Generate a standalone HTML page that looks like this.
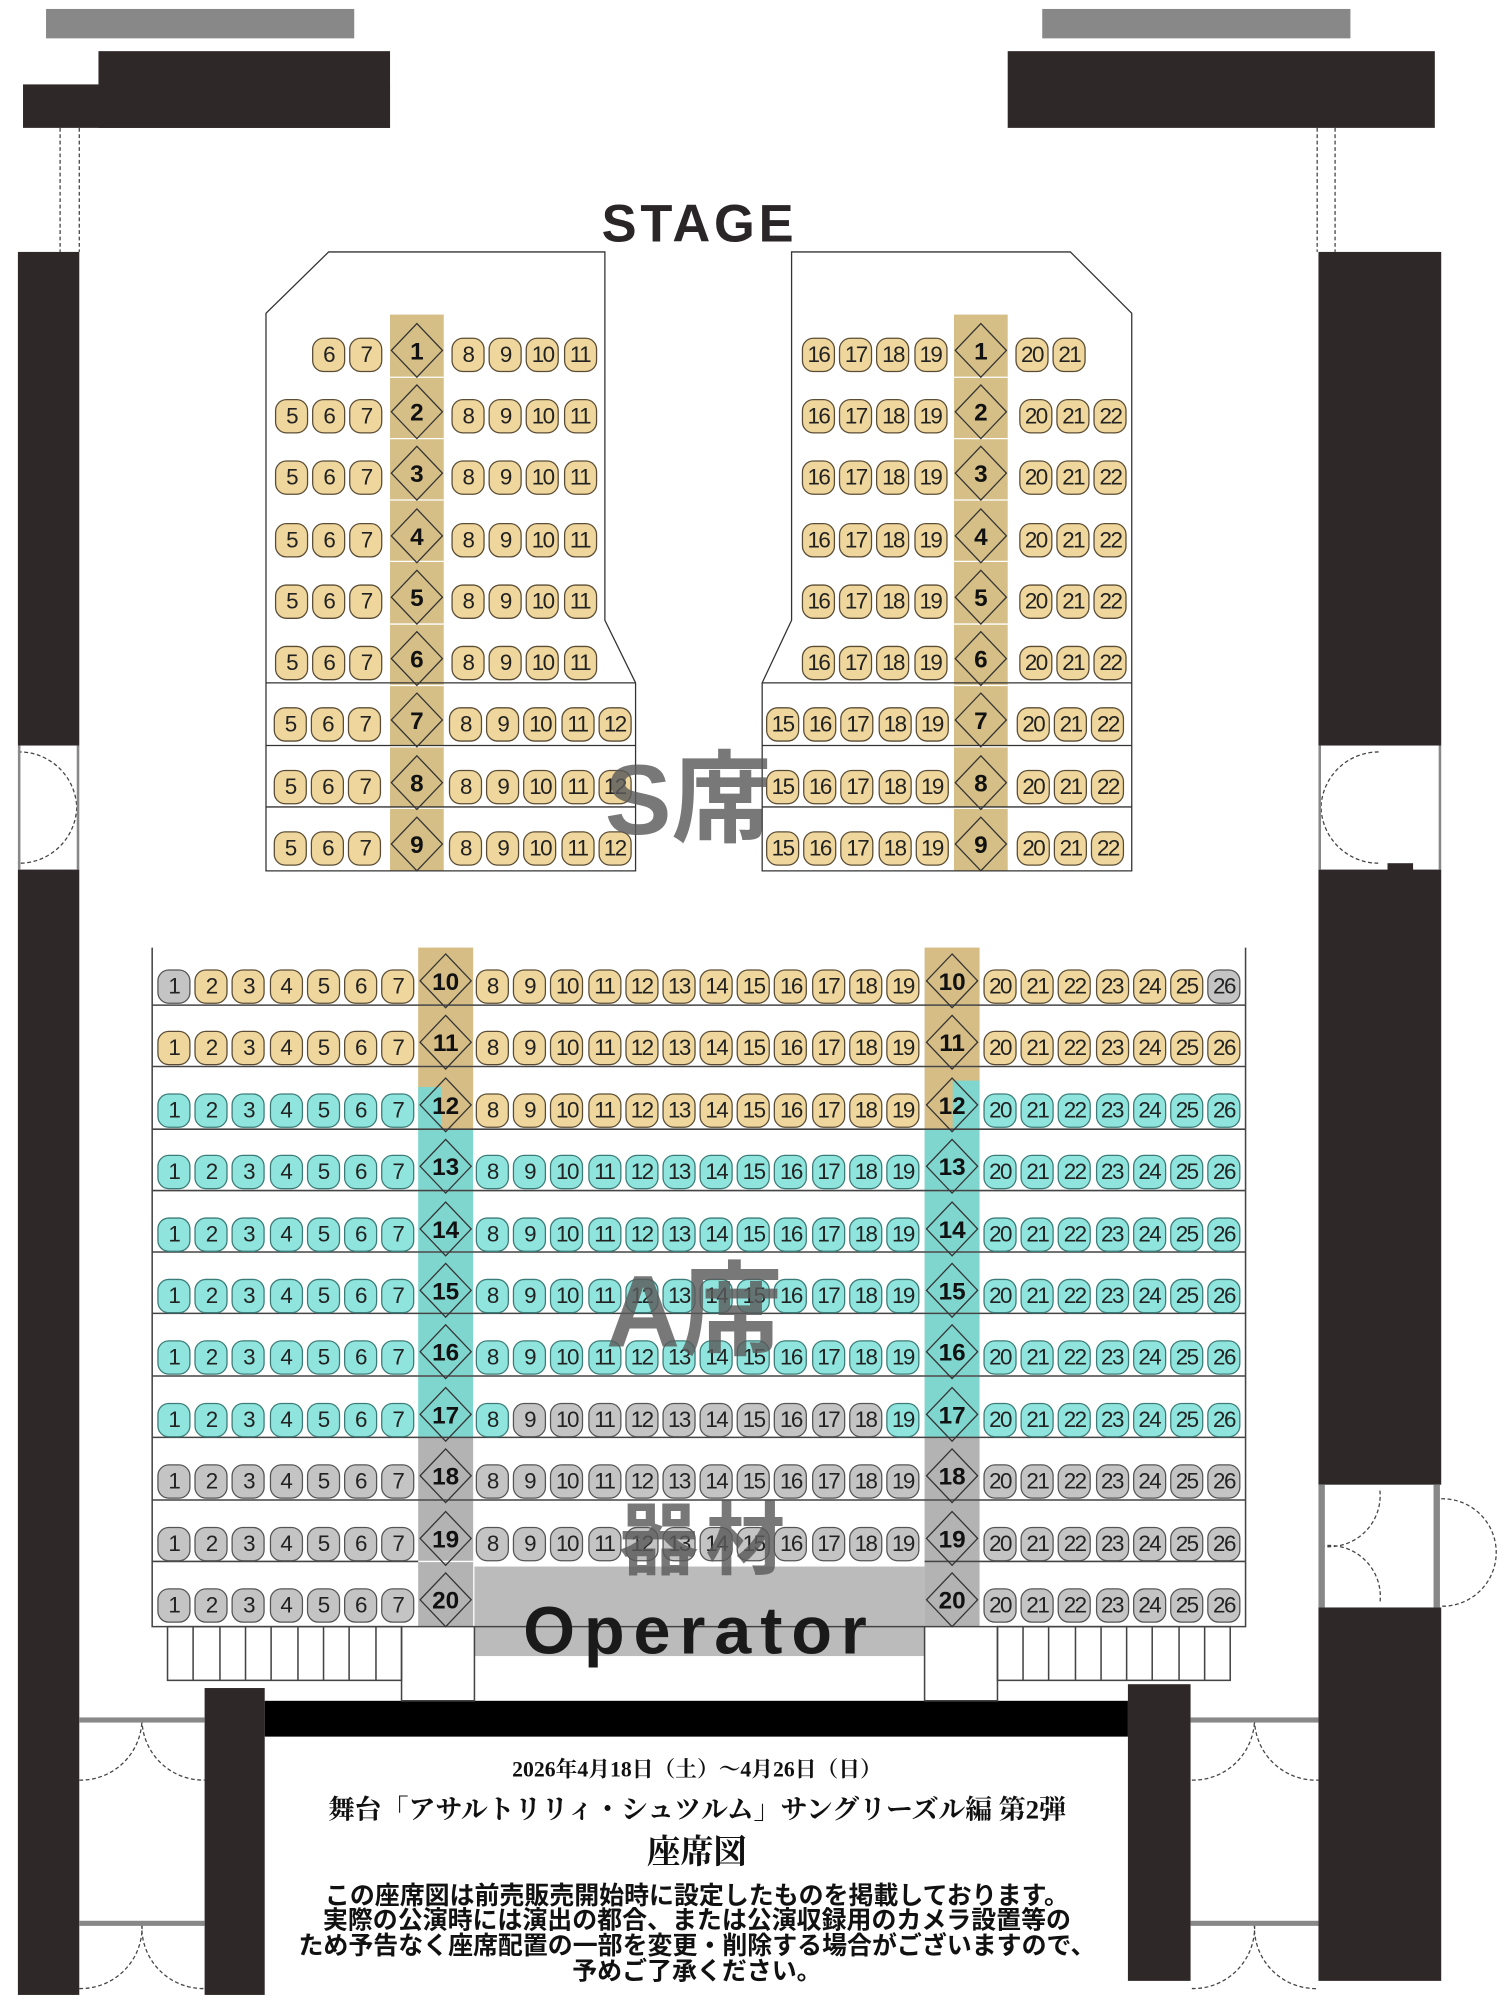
<!DOCTYPE html>
<html><head><meta charset="utf-8"><style>
html,body{margin:0;padding:0;background:#fff;overflow:hidden;width:1509px;height:2000px}
#w{position:relative;width:1180px;height:1564px;transform:scale(1.27881);transform-origin:0 0}
svg{position:absolute;left:0;top:0}
.r{position:absolute;display:flex;height:28px}
.r b{width:26px;height:27px;margin:0 1.6px;box-sizing:border-box;border:1.2px solid #5b4d35;border-radius:9px;background:#eed69c;font:400 17.5px/25px "Liberation Sans",sans-serif;text-align:center;color:#222;letter-spacing:-1.2px;flex:none}
.r.t b{background:#8fe5dd;border-color:#3c7c78}
.r b.g,.r.g b{background:#c4c4c4;border-color:#555}
.r b.t{background:#8fe5dd;border-color:#3c7c78}
.r b.y{background:#eed69c;border-color:#5b4d35}
.big{position:absolute;font-family:"Liberation Sans","Noto Sans CJK JP",sans-serif;font-weight:700;color:rgba(90,90,90,.82);white-space:nowrap}
.tx{position:absolute;left:200px;width:690px;text-align:center;white-space:nowrap;color:#111}
.sf{font-family:"Liberation Serif","Noto Serif CJK JP",serif;font-weight:700}
.ss{font-family:"Liberation Sans","Noto Sans CJK JP",sans-serif;font-weight:700;font-size:19.5px;line-height:20px}
</style></head><body><div id="w">
<svg width="1180" height="1564" viewBox="0 0 1180 1564">
<defs><polygon id="d" points="0,-21 20,0 0,21 -20,0" fill="none" stroke="#333" stroke-width="1"/></defs>
<g fill="#2f2829">
<rect x="36" y="7" width="241" height="23" fill="#888"/><rect x="815" y="7" width="241" height="23" fill="#888"/>
<rect x="77" y="40" width="228" height="60"/><rect x="18" y="66" width="287" height="34"/>
<rect x="788" y="40" width="334" height="60"/>
<rect x="14" y="197" width="48" height="386"/><rect x="14" y="680" width="48" height="880"/>
<rect x="1031" y="197" width="96" height="386"/><rect x="1031" y="680" width="96" height="481"/><rect x="1085" y="675" width="20" height="6"/>
<rect x="1031" y="1257" width="96" height="292"/>
<rect x="160" y="1320" width="47" height="240"/><rect x="882" y="1317" width="49" height="232"/>
<rect x="207" y="1330" width="675" height="28" fill="#000"/>
</g>
<g fill="none" stroke="#444" stroke-width="1" stroke-dasharray="3,2">
<path d="M47,100V197M62,100V197M1030,100V197M1044,100V197"/>
<path d="M14,588 A45,45 0 0 1 60,631 A45,45 0 0 1 14,675"/>
<path d="M1078,588 A45,45 0 0 0 1033,631 A45,45 0 0 0 1078,675"/>
<path d="M1127,1172 A42,42 0 0 1 1170,1214 A42,42 0 0 1 1127,1256"/>
<path d="M1033,1209 A40,40 0 0 0 1079,1165 M1033,1209 A40,40 0 0 1 1079,1254"/>
<path d="M62,1392 A48,48 0 0 0 111,1345 A48,48 0 0 0 160,1392 M62,1555 A48,48 0 0 0 111,1504 A48,48 0 0 0 160,1555"/>
<path d="M932,1392 A48,48 0 0 0 981,1345 A48,48 0 0 0 1031,1392 M932,1555 A48,48 0 0 0 981,1504 A48,48 0 0 0 1031,1555"/>
</g>
<g fill="#888"><rect x="1031" y="1161" width="5" height="96"/><rect x="1121" y="1161" width="5" height="96"/>
<rect x="62" y="1343" width="98" height="4"/><rect x="62" y="1502" width="98" height="4"/>
<rect x="931" y="1343" width="100" height="4"/><rect x="931" y="1502" width="100" height="4"/>
<rect x="14" y="583" width="2" height="97"/><rect x="60" y="583" width="2" height="97"/>
<rect x="1031" y="583" width="2" height="97"/><rect x="1125" y="583" width="2" height="97"/></g>
<rect x="305" y="246" width="42" height="435" fill="#d6bf86"/><rect x="746" y="246" width="42" height="435" fill="#d6bf86"/>
<g stroke="#fff" stroke-width="1"><path d="M305,295H347M305,343H347M305,391H347M305,439H347M305,488H347M305,536H347M305,584H347M305,632H347M746,295H788M746,343H788M746,391H788M746,439H788M746,488H788M746,536H788M746,584H788M746,632H788"/></g>
<g fill="none" stroke="#333" stroke-width="1">
<path d="M257,197L473,197L473,485L497,534L497,681L208,681L208,245Z"/>
<path d="M208,534H497M208,583H497M208,631H497"/>
<path d="M619,197L837,197L885,245L885,681L596,681L596,534L619,485Z"/>
<path d="M596,534H885M596,583H885M596,631H885"/>
</g>
<g>
<rect x="327" y="741" width="43" height="142" fill="#d5bd85"/><rect x="723" y="741" width="43" height="142" fill="#d5bd85"/>
<rect x="327" y="850" width="18" height="33" fill="#7fd6cf"/><rect x="745" y="845" width="21" height="38" fill="#7fd6cf"/>
<rect x="327" y="883" width="43" height="241" fill="#7fd6cf"/><rect x="723" y="883" width="43" height="241" fill="#7fd6cf"/>
<rect x="327" y="1124" width="43" height="148" fill="#b3b3b3"/><rect x="723" y="1124" width="43" height="148" fill="#b3b3b3"/>
<rect x="371" y="1225" width="352" height="70" fill="#bbb"/>
</g>
<g stroke="#fff" stroke-width="1"><path d="M327,786H370M327,834H370M327,931H370M327,979H370M327,1027H370M327,1076H370M327,1173H370M327,1221H370M723,786H766M723,834H766M723,931H766M723,979H766M723,1027H766M723,1076H766M723,1173H766M723,1221H766"/></g>
<g fill="none" stroke="#444" stroke-width="1.2">
<path d="M119,741V1272H974V741"/>
<path d="M119,786H974M119,834H974M119,883H974M119,931H974M119,979H974M119,1027H974M119,1076H974M119,1124H974M119,1173H974M119,1221H327M723,1221H974"/>
<path d="M314,1272V1330H371V1272M723,1272V1330H780V1272"/>
<rect x="131" y="1272" width="183" height="42"/><path d="M151,1272V1314M172,1272V1314M192,1272V1314M212,1272V1314M233,1272V1314M253,1272V1314M273,1272V1314M294,1272V1314"/>
<rect x="780" y="1272" width="182" height="42"/><path d="M800,1272V1314M820,1272V1314M841,1272V1314M861,1272V1314M881,1272V1314M901,1272V1314M922,1272V1314M942,1272V1314"/>
</g>
<g>
<use href="#d" x="326" y="274"/><use href="#d" x="326" y="322"/><use href="#d" x="326" y="370"/><use href="#d" x="326" y="419"/><use href="#d" x="326" y="467"/><use href="#d" x="326" y="515"/><use href="#d" x="326" y="563"/><use href="#d" x="326" y="612"/><use href="#d" x="326" y="660"/>
<use href="#d" x="767" y="274"/><use href="#d" x="767" y="322"/><use href="#d" x="767" y="370"/><use href="#d" x="767" y="419"/><use href="#d" x="767" y="467"/><use href="#d" x="767" y="515"/><use href="#d" x="767" y="563"/><use href="#d" x="767" y="612"/><use href="#d" x="767" y="660"/>
<use href="#d" x="348.5" y="767"/><use href="#d" x="348.5" y="815"/><use href="#d" x="348.5" y="864"/><use href="#d" x="348.5" y="912"/><use href="#d" x="348.5" y="961"/><use href="#d" x="348.5" y="1009"/><use href="#d" x="348.5" y="1057"/><use href="#d" x="348.5" y="1106"/><use href="#d" x="348.5" y="1154"/><use href="#d" x="348.5" y="1203"/><use href="#d" x="348.5" y="1251"/>
<use href="#d" x="744.5" y="767"/><use href="#d" x="744.5" y="815"/><use href="#d" x="744.5" y="864"/><use href="#d" x="744.5" y="912"/><use href="#d" x="744.5" y="961"/><use href="#d" x="744.5" y="1009"/><use href="#d" x="744.5" y="1057"/><use href="#d" x="744.5" y="1106"/><use href="#d" x="744.5" y="1154"/><use href="#d" x="744.5" y="1203"/><use href="#d" x="744.5" y="1251"/>
</g>
<g font-family="Liberation Sans,sans-serif" font-weight="700" font-size="19" text-anchor="middle" fill="#111">
<text x="326" y="281">1</text><text x="326" y="329">2</text><text x="326" y="377">3</text><text x="326" y="426">4</text><text x="326" y="474">5</text><text x="326" y="522">6</text><text x="326" y="570">7</text><text x="326" y="619">8</text><text x="326" y="667">9</text>
<text x="767" y="281">1</text><text x="767" y="329">2</text><text x="767" y="377">3</text><text x="767" y="426">4</text><text x="767" y="474">5</text><text x="767" y="522">6</text><text x="767" y="570">7</text><text x="767" y="619">8</text><text x="767" y="667">9</text>
<text x="348.5" y="774">10</text><text x="348.5" y="822">11</text><text x="348.5" y="871">12</text><text x="348.5" y="919">13</text><text x="348.5" y="968">14</text><text x="348.5" y="1016">15</text><text x="348.5" y="1064">16</text><text x="348.5" y="1113">17</text><text x="348.5" y="1161">18</text><text x="348.5" y="1210">19</text><text x="348.5" y="1258">20</text>
<text x="744.5" y="774">10</text><text x="744.5" y="822">11</text><text x="744.5" y="871">12</text><text x="744.5" y="919">13</text><text x="744.5" y="968">14</text><text x="744.5" y="1016">15</text><text x="744.5" y="1064">16</text><text x="744.5" y="1113">17</text><text x="744.5" y="1161">18</text><text x="744.5" y="1210">19</text><text x="744.5" y="1258">20</text>
</g>
<text x="547" y="189" font-family="Liberation Sans,sans-serif" font-weight="700" font-size="41" letter-spacing="3" text-anchor="middle" fill="#2a2526">STAGE</text>
</svg>

<div class="r" style="left:242.4px;top:264px"><b>6</b><b>7</b></div>
<div class="r" style="left:351.4px;top:264px"><b>8</b><b>9</b><b>10</b><b>11</b></div>
<div class="r" style="left:213.4px;top:312px"><b>5</b><b>6</b><b>7</b></div><div class="r" style="left:351.4px;top:312px"><b>8</b><b>9</b><b>10</b><b>11</b></div>
<div class="r" style="left:213.4px;top:360px"><b>5</b><b>6</b><b>7</b></div><div class="r" style="left:351.4px;top:360px"><b>8</b><b>9</b><b>10</b><b>11</b></div>
<div class="r" style="left:213.4px;top:409px"><b>5</b><b>6</b><b>7</b></div><div class="r" style="left:351.4px;top:409px"><b>8</b><b>9</b><b>10</b><b>11</b></div>
<div class="r" style="left:213.4px;top:457px"><b>5</b><b>6</b><b>7</b></div><div class="r" style="left:351.4px;top:457px"><b>8</b><b>9</b><b>10</b><b>11</b></div>
<div class="r" style="left:213.4px;top:505px"><b>5</b><b>6</b><b>7</b></div><div class="r" style="left:351.4px;top:505px"><b>8</b><b>9</b><b>10</b><b>11</b></div>
<div class="r" style="left:212.4px;top:553px"><b>5</b><b>6</b><b>7</b></div><div class="r" style="left:349.4px;top:553px"><b>8</b><b>9</b><b>10</b><b>11</b><b>12</b></div>
<div class="r" style="left:212.4px;top:602px"><b>5</b><b>6</b><b>7</b></div><div class="r" style="left:349.4px;top:602px"><b>8</b><b>9</b><b>10</b><b>11</b><b>12</b></div>
<div class="r" style="left:212.4px;top:650px"><b>5</b><b>6</b><b>7</b></div><div class="r" style="left:349.4px;top:650px"><b>8</b><b>9</b><b>10</b><b>11</b><b>12</b></div>
<div class="r" style="left:625.4px;top:264px"><b>16</b><b>17</b><b>18</b><b>19</b></div><div class="r" style="left:792.4px;top:264px"><b>20</b><b>21</b></div>
<div class="r" style="left:625.4px;top:312px"><b>16</b><b>17</b><b>18</b><b>19</b></div><div class="r" style="left:795.4px;top:312px"><b>20</b><b>21</b><b>22</b></div>
<div class="r" style="left:625.4px;top:360px"><b>16</b><b>17</b><b>18</b><b>19</b></div><div class="r" style="left:795.4px;top:360px"><b>20</b><b>21</b><b>22</b></div>
<div class="r" style="left:625.4px;top:409px"><b>16</b><b>17</b><b>18</b><b>19</b></div><div class="r" style="left:795.4px;top:409px"><b>20</b><b>21</b><b>22</b></div>
<div class="r" style="left:625.4px;top:457px"><b>16</b><b>17</b><b>18</b><b>19</b></div><div class="r" style="left:795.4px;top:457px"><b>20</b><b>21</b><b>22</b></div>
<div class="r" style="left:625.4px;top:505px"><b>16</b><b>17</b><b>18</b><b>19</b></div><div class="r" style="left:795.4px;top:505px"><b>20</b><b>21</b><b>22</b></div>
<div class="r" style="left:597.4px;top:553px"><b>15</b><b>16</b><b>17</b><b>18</b><b>19</b></div><div class="r" style="left:793.4px;top:553px"><b>20</b><b>21</b><b>22</b></div>
<div class="r" style="left:597.4px;top:602px"><b>15</b><b>16</b><b>17</b><b>18</b><b>19</b></div><div class="r" style="left:793.4px;top:602px"><b>20</b><b>21</b><b>22</b></div>
<div class="r" style="left:597.4px;top:650px"><b>15</b><b>16</b><b>17</b><b>18</b><b>19</b></div><div class="r" style="left:793.4px;top:650px"><b>20</b><b>21</b><b>22</b></div>

<div class="r" style="left:121.4px;top:758px"><b class="g">1</b><b>2</b><b>3</b><b>4</b><b>5</b><b>6</b><b>7</b></div>
<div class="r" style="left:370.4px;top:758px"><b>8</b><b>9</b><b>10</b><b>11</b><b>12</b><b>13</b><b>14</b><b>15</b><b>16</b><b>17</b><b>18</b><b>19</b></div>
<div class="r" style="left:767.4px;top:758px"><b>20</b><b>21</b><b>22</b><b>23</b><b>24</b><b>25</b><b class="g">26</b></div>

<div class="r" style="left:121.4px;top:806px"><b>1</b><b>2</b><b>3</b><b>4</b><b>5</b><b>6</b><b>7</b></div>
<div class="r" style="left:370.4px;top:806px"><b>8</b><b>9</b><b>10</b><b>11</b><b>12</b><b>13</b><b>14</b><b>15</b><b>16</b><b>17</b><b>18</b><b>19</b></div>
<div class="r" style="left:767.4px;top:806px"><b>20</b><b>21</b><b>22</b><b>23</b><b>24</b><b>25</b><b>26</b></div>

<div class="r t" style="left:121.4px;top:855px"><b>1</b><b>2</b><b>3</b><b>4</b><b>5</b><b>6</b><b>7</b></div>
<div class="r" style="left:370.4px;top:855px"><b>8</b><b>9</b><b>10</b><b>11</b><b>12</b><b>13</b><b>14</b><b>15</b><b>16</b><b>17</b><b>18</b><b>19</b></div>
<div class="r t" style="left:767.4px;top:855px"><b>20</b><b>21</b><b>22</b><b>23</b><b>24</b><b>25</b><b>26</b></div>

<div class="r t" style="left:121.4px;top:903px"><b>1</b><b>2</b><b>3</b><b>4</b><b>5</b><b>6</b><b>7</b></div>
<div class="r t" style="left:370.4px;top:903px"><b>8</b><b>9</b><b>10</b><b>11</b><b>12</b><b>13</b><b>14</b><b>15</b><b>16</b><b>17</b><b>18</b><b>19</b></div>
<div class="r t" style="left:767.4px;top:903px"><b>20</b><b>21</b><b>22</b><b>23</b><b>24</b><b>25</b><b>26</b></div>

<div class="r t" style="left:121.4px;top:952px"><b>1</b><b>2</b><b>3</b><b>4</b><b>5</b><b>6</b><b>7</b></div>
<div class="r t" style="left:370.4px;top:952px"><b>8</b><b>9</b><b>10</b><b>11</b><b>12</b><b>13</b><b>14</b><b>15</b><b>16</b><b>17</b><b>18</b><b>19</b></div>
<div class="r t" style="left:767.4px;top:952px"><b>20</b><b>21</b><b>22</b><b>23</b><b>24</b><b>25</b><b>26</b></div>

<div class="r t" style="left:121.4px;top:1000px"><b>1</b><b>2</b><b>3</b><b>4</b><b>5</b><b>6</b><b>7</b></div>
<div class="r t" style="left:370.4px;top:1000px"><b>8</b><b>9</b><b>10</b><b>11</b><b>12</b><b>13</b><b>14</b><b>15</b><b>16</b><b>17</b><b>18</b><b>19</b></div>
<div class="r t" style="left:767.4px;top:1000px"><b>20</b><b>21</b><b>22</b><b>23</b><b>24</b><b>25</b><b>26</b></div>

<div class="r t" style="left:121.4px;top:1048px"><b>1</b><b>2</b><b>3</b><b>4</b><b>5</b><b>6</b><b>7</b></div>
<div class="r t" style="left:370.4px;top:1048px"><b>8</b><b>9</b><b>10</b><b>11</b><b>12</b><b>13</b><b>14</b><b>15</b><b>16</b><b>17</b><b>18</b><b>19</b></div>
<div class="r t" style="left:767.4px;top:1048px"><b>20</b><b>21</b><b>22</b><b>23</b><b>24</b><b>25</b><b>26</b></div>

<div class="r t" style="left:121.4px;top:1097px"><b>1</b><b>2</b><b>3</b><b>4</b><b>5</b><b>6</b><b>7</b></div>
<div class="r g" style="left:370.4px;top:1097px"><b class="t">8</b><b>9</b><b>10</b><b>11</b><b>12</b><b>13</b><b>14</b><b>15</b><b>16</b><b>17</b><b>18</b><b class="t">19</b></div>
<div class="r t" style="left:767.4px;top:1097px"><b>20</b><b>21</b><b>22</b><b>23</b><b>24</b><b>25</b><b>26</b></div>

<div class="r g" style="left:121.4px;top:1145px"><b>1</b><b>2</b><b>3</b><b>4</b><b>5</b><b>6</b><b>7</b></div>
<div class="r g" style="left:370.4px;top:1145px"><b>8</b><b>9</b><b>10</b><b>11</b><b>12</b><b>13</b><b>14</b><b>15</b><b>16</b><b>17</b><b>18</b><b>19</b></div>
<div class="r g" style="left:767.4px;top:1145px"><b>20</b><b>21</b><b>22</b><b>23</b><b>24</b><b>25</b><b>26</b></div>

<div class="r g" style="left:121.4px;top:1194px"><b>1</b><b>2</b><b>3</b><b>4</b><b>5</b><b>6</b><b>7</b></div>
<div class="r g" style="left:370.4px;top:1194px"><b>8</b><b>9</b><b>10</b><b>11</b><b>12</b><b>13</b><b>14</b><b>15</b><b>16</b><b>17</b><b>18</b><b>19</b></div>
<div class="r g" style="left:767.4px;top:1194px"><b>20</b><b>21</b><b>22</b><b>23</b><b>24</b><b>25</b><b>26</b></div>

<div class="r g" style="left:121.4px;top:1242px"><b>1</b><b>2</b><b>3</b><b>4</b><b>5</b><b>6</b><b>7</b></div>
<div class="r g" style="left:767.4px;top:1242px"><b>20</b><b>21</b><b>22</b><b>23</b><b>24</b><b>25</b><b>26</b></div>

<div class="big" style="left:473px;top:580px;font-size:78px;line-height:90px">S席</div>
<div class="big" style="left:474px;top:980px;font-size:80px;line-height:92px">A席</div>
<div class="big" style="left:484px;top:1170px;font-size:62px;line-height:72px;letter-spacing:6px">器材</div>
<div style="position:absolute;left:360px;width:374px;top:1248px;text-align:center;font:700 52px/56px 'Liberation Sans',sans-serif;letter-spacing:7px;color:#1a1a1a">Operator</div>

<div class="tx sf" style="top:1373px;font-size:17px;line-height:22px">2026年4月18日（土）～4月26日（日）</div>
<div class="tx sf" style="top:1402px;font-size:21px;line-height:26px">舞台「アサルトリリィ・シュツルム」サングリーズル編 第2弾</div>
<div class="tx sf" style="top:1434px;font-size:26px;line-height:30px">座席図</div>
<div class="tx ss" style="top:1473px">この座席図は前売販売開始時に設定したものを掲載しております。</div>
<div class="tx ss" style="top:1492px">実際の公演時には演出の都合、または公演収録用のカメラ設置等の</div>
<div class="tx ss" style="top:1512px">ため予告なく座席配置の一部を変更・削除する場合がございますので、</div>
<div class="tx ss" style="top:1532px">予めご了承ください。</div>
</div></body></html>
